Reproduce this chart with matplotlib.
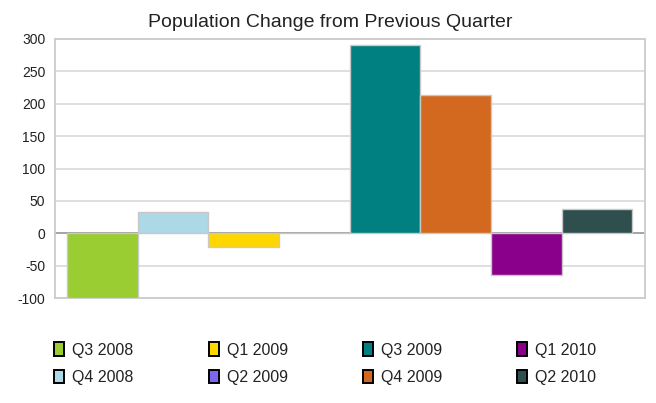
import matplotlib
matplotlib.use("Agg")
import matplotlib.pyplot as plt
from matplotlib.patches import Patch

plt.rcParams['font.family'] = ['Liberation Sans', 'DejaVu Sans']

quarters = ["Q3 2008", "Q4 2008", "Q1 2009", "Q2 2009",
            "Q3 2009", "Q4 2009", "Q1 2010", "Q2 2010"]
changes = [-100, 33, -22, 0, 290, 214, -65, 37]
colors = ["#9ACD32", "#ADD8E6", "#FFD700", "#7B68EE",
          "#008080", "#D2691E", "#8B008B", "#2F4F4F"]
yticks = [-100, -50, 0, 50, 100, 150, 200, 250, 300]

fig = plt.figure(figsize=(6.56, 4.03), dpi=100)
ax = fig.add_axes([55/656, 1-298/403, 590/656, 259/403])

for i, (q, v, c) in enumerate(zip(quarters, changes, colors)):
    ax.bar(i, v, width=1.0, color=c, edgecolor="#c8c8c8", linewidth=1.0, zorder=3)

ax.set_xlim(-0.67, 7.68)
ax.set_ylim(-100, 300)
ax.set_yticks(yticks)
ax.set_yticklabels([str(t) for t in yticks], fontsize=10, color="#222222")
ax.set_xticks([])
ax.tick_params(axis='y', length=0, pad=7)
ax.grid(axis='y', color="#dcdcdc", linewidth=1.3, zorder=0)
ax.axhline(0, color="#a0a0a0", linewidth=1.3, zorder=2)
for s in ax.spines.values():
    s.set_color("#cccccc")
    s.set_linewidth(1.3)

fig.text(0.503, 1-27/403, "Population Change from Previous Quarter",
         ha='center', va='baseline', fontsize=14, color="#222222")

handles = [Patch(facecolor=c, edgecolor="black", linewidth=1.4) for c in colors]
fig.legend(handles, quarters, ncol=4, loc='upper left',
           bbox_to_anchor=(40/656, 1-328/403), frameon=False, fontsize=11.5,
           handlelength=0.62, handleheight=0.9, handletextpad=0.5,
           columnspacing=4.7, labelspacing=0.78, labelcolor="#222222")

fig.savefig("out.png", dpi=100)
